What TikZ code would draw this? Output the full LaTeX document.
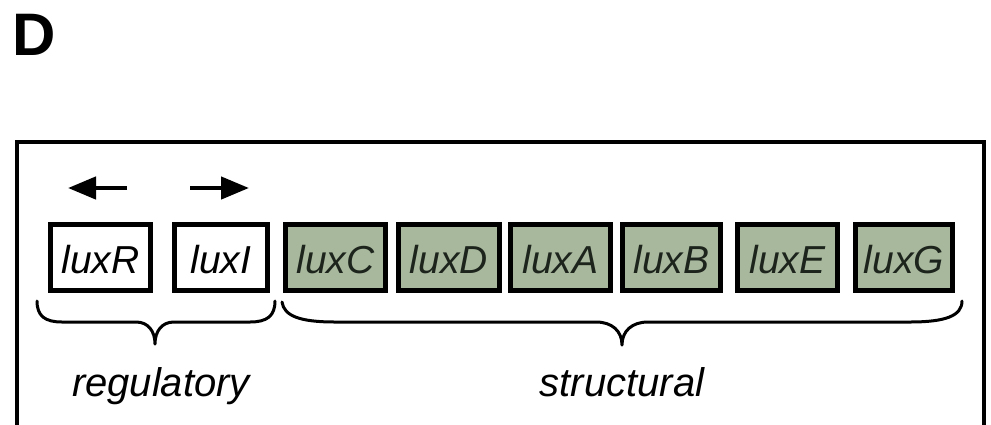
\documentclass[tikz,border=0pt]{standalone}
\usepackage{fontspec}
\setmainfont{Liberation Sans}
\usetikzlibrary{arrows.meta}
\definecolor{genegreen}{RGB}{168,184,157}
\definecolor{genetext}{RGB}{28,36,28}
\tikzset{
  genebox/.style={draw=black, line width=5pt, minimum height=66pt, inner sep=0pt,
    font=\fontsize{39}{42}\selectfont\itshape, text height=31pt, text depth=0pt},
  regbox/.style={genebox, fill=white},
  strbox/.style={genebox, fill=genegreen, text=genetext},
  bracepath/.style={line width=3pt, line cap=round, line join=round},
  dirarrow/.style={line width=4.5pt, -{Triangle[length=28pt,width=22pt]}},
  grouplabel/.style={font=\fontsize{40}{44}\selectfont\itshape, anchor=base, inner sep=0pt}
}
\begin{document}
\begin{tikzpicture}[x=1pt,y=-1pt]
\clip (0,0) rectangle (991,424);
\fill[white] (0,0) rectangle (991,424);
\node[anchor=base west, inner sep=0pt, font=\fontsize{60}{64}\selectfont\bfseries] (panel) at (12.5,55) {D};
\draw[line width=4pt] (17,440) -- (17,142) -- (984,142) -- (984,440);
% arrows
\coordinate (la0) at (127,188);
\coordinate (la1) at (68,188);
\coordinate (ra0) at (190,188);
\coordinate (ra1) at (249,188);
\draw[dirarrow] (la0) -- (la1);
\draw[dirarrow] (ra0) -- (ra1);
% genes
\node[regbox, minimum width=100pt] (luxR) at (100.5,257.5) {luxR};
\node[regbox, minimum width=93pt] (luxI) at (221,257.5) {luxI};
\node[strbox, minimum width=100pt] (luxC) at (335.5,257.5) {luxC};
\node[strbox, minimum width=101pt] (luxD) at (449,257.5) {luxD};
\node[strbox, minimum width=100pt] (luxA) at (560.5,257.5) {luxA};
\node[strbox, minimum width=98pt] (luxB) at (671.5,257.5) {luxB};
\node[strbox, minimum width=100pt] (luxE) at (787.5,257.5) {luxE};
\node[strbox, minimum width=97pt] (luxG) at (904,257.5) {luxG};
% braces
\draw[bracepath] (37,301) .. controls (37,316) and (45,322) .. (62,322) -- (136,322)
  .. controls (148,322) and (155,331) .. (155,344)
  .. controls (155,331) and (162,322) .. (174,322) -- (250,322)
  .. controls (267,322) and (275,316) .. (275,301);
\draw[bracepath] (282,302) .. controls (284,316) and (300,322) .. (335,322) -- (596,322)
  .. controls (612,322) and (622,331) .. (622,345)
  .. controls (622,331) and (632,322) .. (648,322) -- (910,322)
  .. controls (945,322) and (962,316) .. (962,301);
\node[grouplabel] (reg) at (161,396) {regulatory};
\node[grouplabel] (str) at (622,396) {structural};
\end{tikzpicture}
\end{document}
